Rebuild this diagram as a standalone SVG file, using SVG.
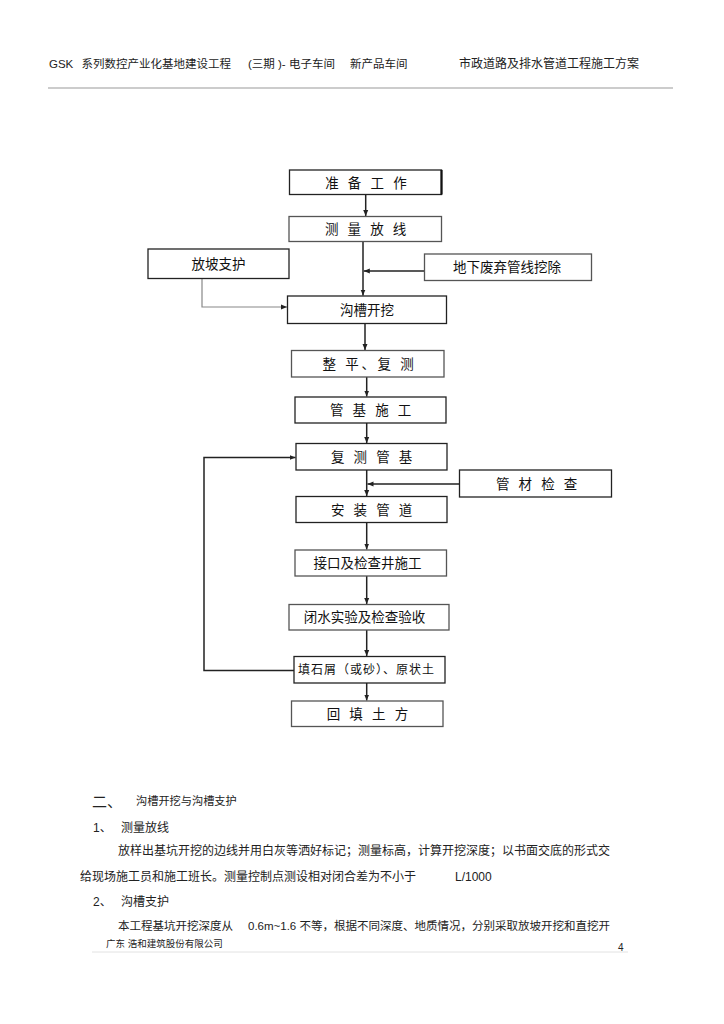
<svg xmlns="http://www.w3.org/2000/svg" width="724" height="1024" viewBox="0 0 724 1024">
<style>
text{font-family:"Liberation Sans","Noto Sans CJK SC",sans-serif;fill:#111}
.box{fill:#fff;stroke:#222;stroke-width:1.3}
.lt{stroke:#555}
.bt{font-size:13.5px;text-anchor:middle}
.sp{letter-spacing:2.7px}
.hd{font-size:11.5px;fill:#222}
.body{font-size:12px;fill:#222}
.con{fill:none;stroke:#222;stroke-width:1.5}
.con2{fill:none;stroke:#888;stroke-width:1.2}
</style>
<defs>
<marker id="ah" markerUnits="userSpaceOnUse" markerWidth="7" markerHeight="6" refX="6" refY="3" orient="auto">
<path d="M0,0.5 L6,3 L0,5.5 z" fill="#222"/>
</marker>
</defs>
<rect width="724" height="1024" fill="#fff"/>

<g id="header">
<text class="hd" x="49" y="67.5">GSK</text>
<text class="hd" x="81.5" y="67.5">系列数控产业化基地建设工程</text>
<text class="hd" x="248" y="67.5">(三期 )- 电子车间</text>
<text class="hd" x="350" y="67.5">新产品车间</text>
<text class="hd" style="font-size:12px" x="459" y="67.5">市政道路及排水管道工程施工方案</text>
<line x1="48" y1="88" x2="673" y2="88" stroke="#bbb" stroke-width="1.5"/>
</g>

<g id="connectors">
<line class="con" x1="365.7" y1="194.5" x2="365.7" y2="216" marker-end="url(#ah)"/>
<line class="con" x1="363" y1="241.5" x2="363" y2="295.5" marker-end="url(#ah)"/>
<line class="con" x1="424.5" y1="271" x2="363.8" y2="271" marker-end="url(#ah)"/>
<polyline class="con2" points="202,278.5 202,307 287,307" marker-end="url(#ah)"/>
<line class="con" x1="365" y1="323.5" x2="365" y2="350" marker-end="url(#ah)"/>
<line class="con" x1="366.7" y1="377" x2="366.7" y2="396.5" marker-end="url(#ah)"/>
<line class="con" x1="366.7" y1="423" x2="366.7" y2="443" marker-end="url(#ah)"/>
<line class="con" x1="366.7" y1="470" x2="366.7" y2="496" marker-end="url(#ah)"/>
<line class="con" x1="459.5" y1="484" x2="367.5" y2="484" marker-end="url(#ah)"/>
<line class="con" x1="366.7" y1="522.5" x2="366.7" y2="549.5" marker-end="url(#ah)"/>
<line class="con" x1="366.7" y1="576" x2="366.7" y2="604" marker-end="url(#ah)"/>
<line class="con" x1="366.7" y1="630" x2="366.7" y2="656" marker-end="url(#ah)"/>
<line class="con" x1="366.7" y1="683" x2="366.7" y2="700.5" marker-end="url(#ah)"/>
<polyline class="con" points="294,670.5 204,670.5 204,457.5 295.5,457.5" marker-end="url(#ah)"/>
</g>

<g id="n1"><rect class="box" x="289.5" y="170" width="152" height="24.5"/><path d="M441.5,170 V194.5" stroke="#111" stroke-width="2.2"/><text class="bt sp" x="367.3" y="187.5">准 备 工 作</text></g>
<g id="n2"><rect class="box lt" x="289" y="216.5" width="152.5" height="25"/><text class="bt sp" x="367" y="234">测 量 放 线</text></g>
<g id="n3"><rect class="box" x="148" y="249" width="141" height="29.5"/><text class="bt" x="218.5" y="268.7">放坡支护</text></g>
<g id="n4"><rect class="box lt" x="424.5" y="254" width="167" height="26.5"/><text class="bt" x="507" y="272">地下废弃管线挖除</text></g>
<g id="n5"><rect class="box" x="287.5" y="296" width="159" height="27.5"/><text class="bt" x="367" y="314.7">沟槽开挖</text></g>
<g id="n6"><rect class="box lt" x="291.5" y="350.5" width="152.5" height="26.5"/><text class="bt sp" x="369.5" y="368.7">整 平、复 测</text></g>
<g id="n7"><rect class="box" x="295" y="397" width="151" height="26"/><text class="bt sp" x="372" y="415">管 基 施 工</text></g>
<g id="n8"><rect class="box" x="296" y="443.5" width="151" height="26.5"/><text class="bt sp" x="373" y="461.7">复 测 管 基</text></g>
<g id="n9"><rect class="box" x="459.5" y="470" width="152" height="27"/><text class="bt sp" x="538" y="488.5">管 材 检 查</text></g>
<g id="n10"><rect class="box" x="296" y="496.5" width="151" height="26"/><text class="bt sp" x="373" y="514.5">安 装 管 道</text></g>
<g id="n11"><rect class="box lt" x="295" y="550" width="151.5" height="26"/><text class="bt" x="367.5" y="568">接口及检查井施工</text></g>
<g id="n12"><rect class="box lt" x="289" y="604.5" width="160" height="25.5"/><text class="bt" x="364.5" y="622.2">闭水实验及检查验收</text></g>
<g id="n13"><rect class="box" x="294" y="656.5" width="151" height="26.5"/><text class="bt" style="font-size:12px;letter-spacing:1px" x="366.5" y="674.2">填石屑（或砂）、原状土</text></g>
<g id="n14"><rect class="box lt" x="291.5" y="701" width="151.5" height="25.5"/><text class="bt sp" x="368.8" y="718.7">回 填 土 方</text></g>

<g id="body">
<text class="body" style="font-size:15px" x="92" y="806.5">二、</text>
<text class="body" style="font-size:11.2px" x="136" y="805">沟槽开挖与沟槽支护</text>
<text class="body" x="93" y="831.5">1、</text>
<text class="body" x="121" y="831.5">测量放线</text>
<text class="body" x="118" y="855">放样出基坑开挖的边线并用白灰等洒好标记；测量标高，计算开挖深度；以书面交底的形式交</text>
<text class="body" x="80" y="881">给现场施工员和施工班长。测量控制点测设相对闭合差为不小于</text>
<text class="body" x="455" y="881">L/1000</text>
<text class="body" x="93" y="905.5">2、</text>
<text class="body" x="121" y="905.5">沟槽支护</text>
<text class="body" style="font-size:11.5px" x="118" y="929.5">本工程基坑开挖深度从</text>
<text class="body" style="font-size:11.5px" x="248" y="929.5">0.6m~1.6 不等，根据不同深度、地质情况，分别采取放坡开挖和直挖开</text>
<text class="body" style="font-size:9.5px" x="106" y="946.5">广东 浩和建筑股份有限公司</text>
<text class="body" style="font-size:10px" x="618" y="950.5">4</text>
<line x1="92" y1="952" x2="628" y2="952" stroke="#e2e2e2" stroke-width="1"/>
</g>
</svg>
